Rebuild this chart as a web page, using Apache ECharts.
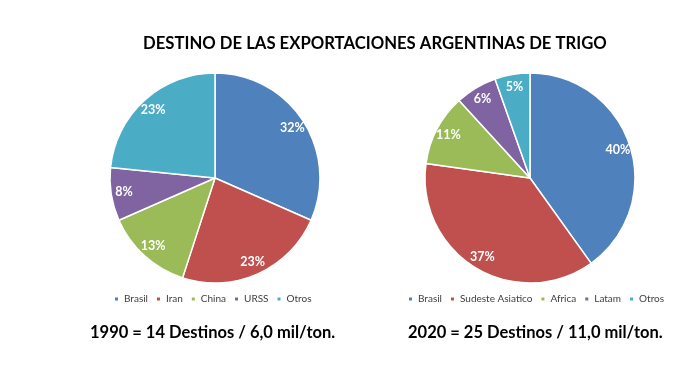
<!DOCTYPE html>
<html><head><meta charset="utf-8">
<script src="https://cdn.jsdelivr.net/npm/echarts@6/dist/echarts.min.js"></script>
<style>html,body{margin:0;padding:0;background:#fff}#c{width:684px;height:368px}</style>
</head><body><div id="c"></div>
<script>
const titleText = 'DESTINO DE LAS EXPORTACIONES ARGENTINAS DE TRIGO';
const cats1990 = ['Brasil', 'Iran', 'China', 'URSS', 'Otros'];
const vals1990 = [31.6, 23.4, 13.4, 8.2, 23.4];
const cats2020 = ['Brasil', 'Sudeste Asiatico', 'Africa', 'Latam', 'Otros'];
const vals2020 = [40.1, 37.1, 11.0, 6.4, 5.4];
const caption1990 = '1990 = 14 Destinos / 6,0 mil/ton.';
const caption2020 = '2020 = 25 Destinos / 11,0 mil/ton.';
const colors = ['#4F81BD', '#C0504D', '#9BBB59', '#8064A2', '#4BACC6'];

const F = 'Lato, "Open Sans", sans-serif';
const toData = (c, v) => c.map((n, i) => ({name: n, value: v[i], itemStyle: {color: colors[i]}}));
const R = 105;
function pieSeries(c, v, center) {
  return [{
    type: 'pie', center: center, radius: [0, R], startAngle: 90, clockwise: true,
    data: toData(c, v), label: {show: false}, labelLine: {show: false},
    itemStyle: {borderColor: '#fff', borderWidth: 1.5}, emphasis: {disabled: true},
    animation: false
  }, {
    type: 'pie', center: center, radius: [R * 0.7, R], startAngle: 90, clockwise: true,
    data: c.map((n, i) => ({name: n, value: v[i], itemStyle: {color: 'transparent'}})),
    silent: true, legendHoverLink: false,
    itemStyle: {borderWidth: 0},
    label: {show: true, position: 'inside', color: '#fff', fontFamily: F, fontWeight: 'bold', fontSize: 12.5,
      formatter: p => Math.round(p.value) + '%'},
    labelLine: {show: false}, emphasis: {disabled: true}, animation: false
  }];
}
const legendCommon = {icon: 'rect', itemWidth: 5, itemHeight: 5, itemGap: 7, width: 300, padding: 0,
  textStyle: {fontFamily: F, fontSize: 10, color: '#404040'}, selectedMode: false};
const chart = echarts.init(document.getElementById('c'));
chart.setOption({
  color: colors,
  animation: false,
  legend: [
    Object.assign({data: cats1990, left: 113, top: 294}, legendCommon),
    Object.assign({data: cats2020, left: 407, top: 294}, legendCommon)
  ],
  series: [...pieSeries(cats1990, vals1990, [215, 178]), ...pieSeries(cats2020, vals2020, [530, 178])],
  graphic: [
    {type: 'text', left: 143, top: 35, style: {text: titleText, font: 'bold 16.7px ' + F, fill: '#000'}},
    {type: 'text', left: 90, top: 324, style: {text: caption1990, font: 'bold 16.5px ' + F, fill: '#000'}},
    {type: 'text', left: 408, top: 324, style: {text: caption2020, font: 'bold 16.5px ' + F, fill: '#000'}}
  ]
});
</script></body></html>
